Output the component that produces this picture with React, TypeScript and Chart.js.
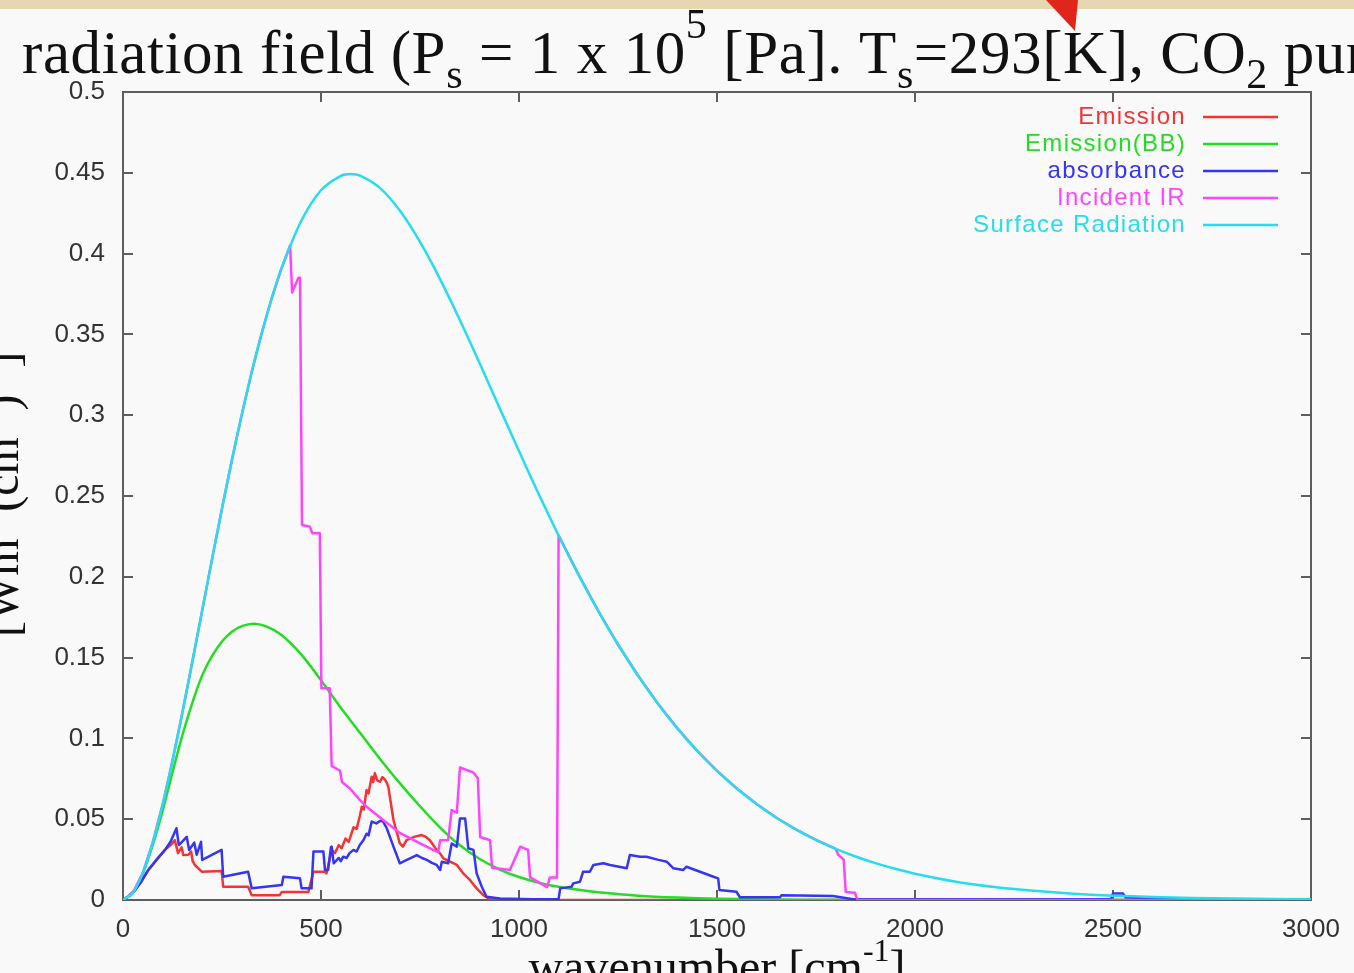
import React, { useEffect, useRef } from 'react';
import { Chart, registerables } from 'chart.js';

Chart.register(...registerables);

const W = 1354;
const H = 973;

// ---------- data ----------
const xTicks = [0, 500, 1000, 1500, 2000, 2500, 3000];
const xTickLabels = ['0', '500', '1000', '1500', '2000', '2500', '3000'];
const yTicks = [0, 0.05, 0.1, 0.15, 0.2, 0.25, 0.3, 0.35, 0.4, 0.45, 0.5];
const yTickLabels = ['0', '0.05', '0.1', '0.15', '0.2', '0.25', '0.3', '0.35', '0.4', '0.45', '0.5'];

const seriesNames = ['Emission', 'Emission(BB)', 'absorbance', 'Incident IR', 'Surface Radiation'];
const seriesColors = ['#f23434', '#22dd22', '#3535f2', '#ff44ff', '#26dcef'];

const emissionX = [0, 15, 30, 45, 64, 85, 106, 120, 131, 139, 148, 152, 165, 172, 176, 182, 199, 249, 253, 316, 325, 396, 401, 468, 481, 510, 514, 527, 535, 545, 552, 562, 570, 582, 590, 598, 603, 608, 615, 620, 628, 632, 636, 642, 649, 655, 662, 667, 670, 683, 699, 707, 716, 737, 754, 765, 775, 792, 800, 809, 826, 843, 859, 876, 893, 910, 927, 950, 3000];
const emissionY = [0, 0.0025, 0.006, 0.011, 0.0186, 0.025, 0.031, 0.034, 0.037, 0.029, 0.0326, 0.0279, 0.028, 0.03, 0.024, 0.0215, 0.0175, 0.018, 0.0082, 0.0082, 0.003, 0.003, 0.005, 0.005, 0.0175, 0.0175, 0.0165, 0.031, 0.029, 0.034, 0.032, 0.038, 0.036, 0.045, 0.044, 0.052, 0.0577, 0.056, 0.068, 0.066, 0.0763, 0.073, 0.0784, 0.074, 0.0732, 0.076, 0.0743, 0.072, 0.07, 0.0495, 0.035, 0.033, 0.037, 0.0392, 0.0402, 0.039, 0.037, 0.031, 0.029, 0.0258, 0.0237, 0.0217, 0.0165, 0.0124, 0.0072, 0.003, 0.0004, 0, 0];

const bbX = [0, 25, 50, 75, 100, 125, 150, 175, 200, 225, 250, 275, 300, 330, 360, 400, 450, 500, 550, 600, 650, 700, 750, 800, 850, 900, 950, 1000, 1050, 1100, 1150, 1200, 1300, 1400, 1500, 1600, 1800, 2000, 3000];
const bbY = [0, 0.0044, 0.0163, 0.034, 0.055, 0.079, 0.102, 0.122, 0.139, 0.151, 0.16, 0.166, 0.1695, 0.171, 0.1695, 0.164, 0.152, 0.136, 0.119, 0.103, 0.087, 0.072, 0.058, 0.045, 0.034, 0.0255, 0.019, 0.0142, 0.0107, 0.0082, 0.0063, 0.0048, 0.0027, 0.0015, 0.0008, 0.0004, 0.0001, 0, 0];

const absorbX = [0, 15, 30, 45, 64, 85, 106, 120, 135, 141, 161, 167, 180, 186, 197, 200, 249, 253, 316, 325, 401, 405, 447, 451, 476, 481, 506, 510, 518, 525, 527, 532, 545, 550, 556, 565, 572, 582, 590, 598, 607, 615, 620, 628, 640, 650, 657, 666, 683, 699, 710, 725, 742, 755, 767, 780, 792, 801, 805, 821, 830, 843, 851, 864, 872, 885, 893, 906, 918, 952, 1035, 1100, 1104, 1133, 1137, 1154, 1162, 1179, 1188, 1213, 1230, 1272, 1280, 1306, 1322, 1350, 1373, 1390, 1415, 1423, 1457, 1491, 1503, 1506, 1549, 1558, 1659, 1663, 1793, 1843, 2495, 2500, 2525, 2532, 2650, 2700, 3000];
const absorbY = [0, 0.0025, 0.006, 0.011, 0.0186, 0.025, 0.031, 0.036, 0.0444, 0.034, 0.039, 0.031, 0.0355, 0.028, 0.036, 0.0248, 0.031, 0.0144, 0.0175, 0.0072, 0.0093, 0.0144, 0.0134, 0.0072, 0.0072, 0.03, 0.03, 0.0186, 0.0186, 0.0326, 0.033, 0.0227, 0.026, 0.024, 0.0268, 0.026, 0.029, 0.031, 0.03, 0.034, 0.037, 0.041, 0.04, 0.0485, 0.0474, 0.049, 0.0485, 0.0444, 0.033, 0.0227, 0.024, 0.0258, 0.0278, 0.026, 0.0248, 0.023, 0.0217, 0.0186, 0.0237, 0.0227, 0.035, 0.033, 0.0505, 0.0505, 0.032, 0.031, 0.0165, 0.0082, 0.002, 0.001, 0.0005, 0.0005, 0.0072, 0.0082, 0.0103, 0.0113, 0.0175, 0.0175, 0.0217, 0.0227, 0.0217, 0.0196, 0.0278, 0.0268, 0.0268, 0.025, 0.0237, 0.0196, 0.0186, 0.0206, 0.0175, 0.0144, 0.0134, 0.0062, 0.0051, 0.0017, 0.0017, 0.003, 0.0025, 0.0005, 0.0005, 0.004, 0.004, 0.0015, 0.001, 0, 0];

const incidentX = [0, 25, 50, 75, 100, 125, 150, 175, 200, 225, 250, 275, 300, 325, 350, 375, 400, 422, 427, 443, 447, 452, 472, 478, 497, 501, 522, 527, 548, 553, 573, 598, 616, 657, 699, 750, 783, 796, 801, 821, 830, 843, 851, 884, 896, 902, 927, 932, 977, 1003, 1023, 1028, 1071, 1078, 1096, 1100, 1150, 1200, 1250, 1300, 1350, 1400, 1450, 1500, 1550, 1600, 1650, 1700, 1750, 1800, 1806, 1820, 1825, 1848, 1855, 3000];
const incidentY = [0, 0.0045, 0.0168, 0.0355, 0.059, 0.0862, 0.116, 0.1473, 0.1792, 0.2111, 0.2423, 0.2722, 0.3004, 0.3266, 0.3505, 0.3719, 0.3907, 0.405, 0.376, 0.385, 0.385, 0.232, 0.231, 0.227, 0.227, 0.131, 0.131, 0.083, 0.08, 0.073, 0.069, 0.062, 0.0575, 0.0495, 0.0415, 0.035, 0.031, 0.0297, 0.037, 0.037, 0.0557, 0.054, 0.082, 0.079, 0.0755, 0.039, 0.037, 0.02, 0.0186, 0.033, 0.031, 0.014, 0.008, 0.014, 0.014, 0.2256, 0.2015, 0.1789, 0.1581, 0.1391, 0.1218, 0.1062, 0.0923, 0.0799, 0.069, 0.0594, 0.0509, 0.0436, 0.0372, 0.0316, 0.028, 0.025, 0.005, 0.0045, 0, 0];

const surfaceX = [0, 25, 50, 75, 100, 125, 150, 175, 200, 225, 250, 275, 300, 325, 350, 375, 400, 450, 500, 550, 575, 600, 650, 700, 750, 800, 850, 900, 950, 1000, 1050, 1100, 1150, 1200, 1250, 1300, 1350, 1400, 1450, 1500, 1550, 1600, 1650, 1700, 1750, 1800, 1850, 1900, 1950, 2000, 2100, 2200, 2300, 2400, 2500, 2600, 2700, 2800, 2900, 3000];
const surfaceY = [0, 0.0045, 0.0168, 0.0355, 0.059, 0.0862, 0.116, 0.1473, 0.1792, 0.2111, 0.2423, 0.2722, 0.3004, 0.3266, 0.3505, 0.3719, 0.3907, 0.4202, 0.4392, 0.4481, 0.4492, 0.4481, 0.4404, 0.4263, 0.4072, 0.3845, 0.3592, 0.3325, 0.305, 0.2778, 0.2511, 0.2256, 0.2015, 0.1789, 0.1581, 0.1391, 0.1218, 0.1062, 0.0923, 0.0799, 0.069, 0.0594, 0.0509, 0.0436, 0.0372, 0.0316, 0.0269, 0.0228, 0.0193, 0.0163, 0.0115, 0.0081, 0.0057, 0.0039, 0.0027, 0.0019, 0.0013, 0.0009, 0.0006, 0.0004];

// ---------- helpers ----------
const pts = (xs: number[], ys: number[]) => xs.map((x, i) => ({ x, y: ys[i] }));

type Seg = { t: string; size: number; dy?: number };

function drawSegs(ctx: CanvasRenderingContext2D, segs: Seg[], x: number, y: number, family: string, ls = '0px') {
  let cx = x;
  (ctx as any).letterSpacing = ls;
  for (const s of segs) {
    ctx.font = `${s.size}px ${family}`;
    ctx.fillText(s.t, cx, y + (s.dy || 0));
    cx += ctx.measureText(s.t).width;
  }
  (ctx as any).letterSpacing = '0px';
  return cx - x;
}

function segsWidth(ctx: CanvasRenderingContext2D, segs: Seg[], family: string) {
  let w = 0;
  for (const s of segs) {
    ctx.font = `${s.size}px ${family}`;
    w += ctx.measureText(s.t).width;
  }
  return w;
}

const SERIF = '"Liberation Serif", "DejaVu Serif", serif';
const SANS = '"Liberation Sans", Arial, sans-serif';

const backgroundPlugin = {
  id: 'pageBackground',
  beforeDraw(chart: any) {
    const ctx = chart.ctx as CanvasRenderingContext2D;
    ctx.save();
    ctx.fillStyle = '#f9f9f9';
    ctx.fillRect(0, 0, W, H);
    ctx.fillStyle = '#e6d6b2';
    ctx.fillRect(0, 0, W, 9);
    ctx.fillStyle = '#e0261a';
    ctx.beginPath();
    ctx.moveTo(1046, 0);
    ctx.lineTo(1078, 0);
    ctx.lineTo(1075, 31);
    ctx.closePath();
    ctx.fill();
    ctx.restore();
  },
};

const framePlugin = {
  id: 'gnuFrame',
  beforeDatasetsDraw(chart: any) {
    const ctx = chart.ctx as CanvasRenderingContext2D;
    const { left, right, top, bottom } = chart.chartArea;
    const xs = chart.scales.x;
    const ys = chart.scales.y;
    ctx.save();
    ctx.strokeStyle = '#5e5e5e';
    ctx.lineWidth = 2;
    ctx.strokeRect(left, top, right - left, bottom - top);
    const tl = 10;
    ctx.beginPath();
    for (const v of xTicks) {
      const px = Math.round(xs.getPixelForValue(v));
      ctx.moveTo(px, bottom);
      ctx.lineTo(px, bottom - tl);
      ctx.moveTo(px, top);
      ctx.lineTo(px, top + tl);
    }
    for (const v of yTicks) {
      const py = Math.round(ys.getPixelForValue(v));
      ctx.moveTo(left, py);
      ctx.lineTo(left + tl, py);
      ctx.moveTo(right, py);
      ctx.lineTo(right - tl, py);
    }
    ctx.stroke();
    ctx.restore();
  },
};

const textPlugin = {
  id: 'gnuTexts',
  afterDraw(chart: any) {
    const ctx = chart.ctx as CanvasRenderingContext2D;
    ctx.save();
    // legend
    ctx.font = `24px ${SANS}`;
    (ctx as any).letterSpacing = '1.3px';
    ctx.textAlign = 'right';
    ctx.textBaseline = 'middle';
    seriesNames.forEach((name, i) => {
      const y = 117 + 27 * i;
      ctx.fillStyle = seriesColors[i];
      ctx.fillText(name, 1186, y);
      ctx.strokeStyle = seriesColors[i];
      ctx.lineWidth = 2.5;
      ctx.beginPath();
      ctx.moveTo(1203, y);
      ctx.lineTo(1278, y);
      ctx.stroke();
    });
    (ctx as any).letterSpacing = '0px';

    // title
    ctx.fillStyle = '#111';
    ctx.textAlign = 'left';
    ctx.textBaseline = 'alphabetic';
    const title: Seg[] = [
      { t: 'radiation field (P', size: 61 },
      { t: 's', size: 42, dy: 15 },
      { t: ' = 1 x 10', size: 61 },
      { t: '5', size: 42, dy: -35 },
      { t: ' [Pa]. T', size: 61 },
      { t: 's', size: 42, dy: 15 },
      { t: '=293[K], CO', size: 61 },
      { t: '2', size: 42, dy: 15 },
      { t: ' pure)', size: 61 },
    ];
    drawSegs(ctx, title, 22, 73, SERIF, '0.6px');

    // x axis title
    const xl: Seg[] = [
      { t: 'wavenumber [cm', size: 48 },
      { t: '-1', size: 32, dy: -22 },
      { t: ']', size: 48 },
    ];
    const cx = (chart.chartArea.left + chart.chartArea.right) / 2;
    const xw = segsWidth(ctx, xl, SERIF);
    drawSegs(ctx, xl, cx - xw / 2, 983, SERIF);

    // y axis title (rotated)
    const yl: Seg[] = [
      { t: '[Wm', size: 48 },
      { t: '-2', size: 32, dy: -24 },
      { t: '(cm', size: 48 },
      { t: '-1', size: 32, dy: -24 },
      { t: ')', size: 48 },
      { t: '-1', size: 32, dy: -24 },
      { t: ']', size: 48 },
    ];
    ctx.translate(18, 637);
    ctx.rotate(-Math.PI / 2);
    drawSegs(ctx, yl, 0, 0, SERIF);
    ctx.restore();
  },
};

export default function App() {
  const canvasRef = useRef<HTMLCanvasElement | null>(null);

  useEffect(() => {
    const canvas = canvasRef.current;
    if (!canvas) return;
    const tickFont = { family: SANS, size: 26 };
    const line = (i: number, xs: number[], ys: number[], order: number, tension = 0) => ({
      label: seriesNames[i],
      data: pts(xs, ys),
      borderColor: seriesColors[i],
      backgroundColor: seriesColors[i],
      borderWidth: 2.5,
      pointRadius: 0,
      tension,
      borderJoinStyle: 'round',
      fill: false,
      order,
    });
    const labelFor = (ticks: number[], labels: string[]) => (v: any) => {
      const idx = ticks.findIndex((t) => Math.abs(t - Number(v)) < 1e-9);
      return idx >= 0 ? labels[idx] : '';
    };
    const chart = new Chart(canvas, {
      type: 'line',
      data: {
        datasets: [
          line(0, emissionX, emissionY, 4),
          line(1, bbX, bbY, 3, 0.3),
          line(2, absorbX, absorbY, 2),
          line(3, incidentX, incidentY, 1),
          line(4, surfaceX, surfaceY, 0, 0.3),
        ] as any,
      },
      options: {
        animation: false,
        responsive: false,
        devicePixelRatio: 1,
        layout: { autoPadding: false, padding: { left: 0, right: 43, top: 92, bottom: 0 } },
        plugins: {
          legend: { display: false },
          title: { display: false },
          tooltip: { enabled: false },
        },
        scales: {
          x: {
            type: 'linear',
            min: 0,
            max: 3000,
            grid: { display: false, drawTicks: false },
            border: { display: false },
            ticks: { stepSize: 500, padding: 14, font: tickFont, color: '#333', maxRotation: 0, autoSkip: false, callback: labelFor(xTicks, xTickLabels) },
            afterFit: (s: any) => { s.height = 73; },
          },
          y: {
            type: 'linear',
            min: 0,
            max: 0.5,
            grid: { display: false, drawTicks: false },
            border: { display: false },
            ticks: { stepSize: 0.05, padding: 18, font: tickFont, color: '#333', autoSkip: false, callback: labelFor(yTicks, yTickLabels) },
            afterFit: (s: any) => { s.width = 123; },
          },
        },
      } as any,
      plugins: [backgroundPlugin, framePlugin, textPlugin],
    });
    return () => chart.destroy();
  }, []);

  return (
    <div style={{ position: 'fixed', left: 0, top: 0, width: W, height: H, overflow: 'hidden' }}>
      <canvas ref={canvasRef} width={W} height={H} style={{ display: 'block', width: W, height: H }} />
    </div>
  );
}
